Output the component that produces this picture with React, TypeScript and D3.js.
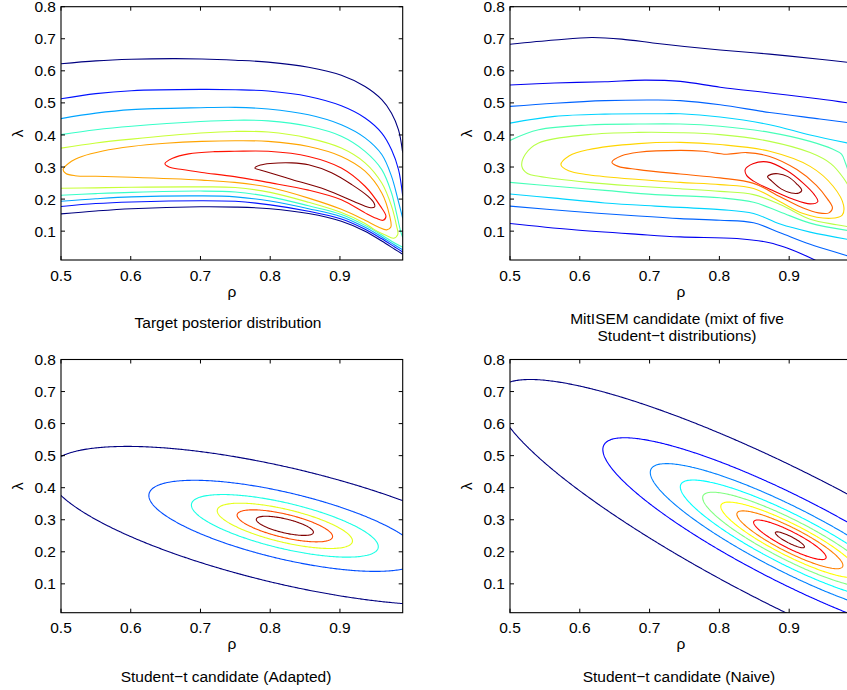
import React from "react";
import * as d3 from "d3";

type Pt = [number, number];
type Curve = { pts: Pt[]; closed?: boolean };

const rhoTicks = [0.5, 0.6, 0.7, 0.8, 0.9];
const lambdaTicks = [0.1, 0.2, 0.3, 0.4, 0.5, 0.6, 0.7, 0.8];
const rhoDomain: Pt = [0.5, 0.99];
const lambdaDomain: Pt = [0.01, 0.8];

// ---- Target posterior: contour lines (outer -> inner) ----
const targetNavy: Curve[] = [
  { pts: [[0.5, 0.622], [0.55, 0.631], [0.601, 0.636], [0.66, 0.638], [0.702, 0.637], [0.75, 0.633], [0.797, 0.627], [0.855, 0.611], [0.902, 0.586], [0.936, 0.551], [0.96, 0.51], [0.974, 0.468], [0.984, 0.416], [0.99, 0.345]] },
  { pts: [[0.5, 0.154], [0.55, 0.163], [0.601, 0.17], [0.7, 0.176], [0.75, 0.175], [0.8, 0.17], [0.855, 0.155], [0.902, 0.131], [0.936, 0.1], [0.96, 0.069], [0.979, 0.043], [0.99, 0.028]] },
];
const targetBlue: Curve[] = [
  { pts: [[0.5, 0.513], [0.55, 0.529], [0.601, 0.538], [0.7, 0.542], [0.75, 0.541], [0.797, 0.537], [0.855, 0.52], [0.902, 0.491], [0.936, 0.453], [0.96, 0.406], [0.974, 0.354], [0.984, 0.292], [0.99, 0.21]] },
  { pts: [[0.5, 0.177], [0.55, 0.186], [0.601, 0.191], [0.7, 0.195], [0.75, 0.193], [0.8, 0.182], [0.855, 0.162], [0.902, 0.138], [0.936, 0.106], [0.96, 0.076], [0.979, 0.05], [0.99, 0.035]] },
];
const targetLightBlue: Curve[] = [
  { pts: [[0.5, 0.451], [0.55, 0.468], [0.601, 0.479], [0.7, 0.485], [0.75, 0.486], [0.797, 0.481], [0.855, 0.463], [0.902, 0.432], [0.936, 0.391], [0.96, 0.339], [0.974, 0.271], [0.983, 0.2], [0.99, 0.14]] },
  { pts: [[0.5, 0.193], [0.55, 0.201], [0.601, 0.207], [0.7, 0.21], [0.75, 0.207], [0.8, 0.194], [0.855, 0.17], [0.902, 0.145], [0.936, 0.112], [0.96, 0.082], [0.979, 0.056], [0.99, 0.042]] },
];
const targetCyan: Curve[] = [
  { pts: [[0.5, 0.401], [0.55, 0.416], [0.601, 0.427], [0.7, 0.442], [0.75, 0.446], [0.797, 0.444], [0.855, 0.427], [0.902, 0.396], [0.936, 0.349], [0.96, 0.292], [0.974, 0.219], [0.981, 0.157], [0.987, 0.1], [0.99, 0.08]] },
  { pts: [[0.5, 0.212], [0.55, 0.217], [0.601, 0.221], [0.7, 0.225], [0.75, 0.222], [0.8, 0.207], [0.855, 0.179], [0.902, 0.152], [0.936, 0.118], [0.96, 0.088], [0.979, 0.062], [0.99, 0.05]] },
];
const targetYellow: Curve[] = [
  { pts: [[0.5, 0.359], [0.55, 0.375], [0.601, 0.387], [0.7, 0.406], [0.749, 0.411], [0.797, 0.409], [0.855, 0.39], [0.902, 0.359], [0.936, 0.313], [0.96, 0.25], [0.974, 0.178], [0.981, 0.118], [0.983, 0.09], [0.977, 0.078], [0.965, 0.088], [0.95, 0.104], [0.936, 0.124], [0.902, 0.158], [0.855, 0.19], [0.8, 0.221], [0.75, 0.236], [0.7, 0.238], [0.601, 0.237], [0.55, 0.235], [0.5, 0.234]] },
];
const targetOrange: Curve[] = [
  { closed: true, pts: [[0.503, 0.292], [0.515, 0.318], [0.53, 0.333], [0.56, 0.35], [0.601, 0.364], [0.65, 0.374], [0.702, 0.38], [0.75, 0.382], [0.797, 0.38], [0.855, 0.364], [0.902, 0.333], [0.936, 0.287], [0.96, 0.219], [0.971, 0.15], [0.973, 0.113], [0.967, 0.104], [0.955, 0.113], [0.936, 0.134], [0.902, 0.168], [0.855, 0.203], [0.8, 0.236], [0.749, 0.252], [0.702, 0.259], [0.601, 0.268], [0.55, 0.271], [0.52, 0.273], [0.507, 0.28]] },
];
const targetRed: Curve[] = [
  { closed: true, pts: [[0.649, 0.31], [0.66, 0.327], [0.683, 0.341], [0.72, 0.348], [0.749, 0.349], [0.797, 0.349], [0.855, 0.333], [0.902, 0.297], [0.936, 0.24], [0.958, 0.178], [0.966, 0.146], [0.962, 0.134], [0.952, 0.14], [0.936, 0.157], [0.902, 0.198], [0.855, 0.228], [0.797, 0.252], [0.749, 0.27], [0.702, 0.283], [0.674, 0.292], [0.655, 0.3]] },
];
const targetDarkRed: Curve[] = [
  { closed: true, pts: [[0.778, 0.297], [0.786, 0.306], [0.8, 0.311], [0.831, 0.313], [0.855, 0.307], [0.888, 0.282], [0.917, 0.245], [0.94, 0.209], [0.949, 0.187], [0.95, 0.176], [0.944, 0.173], [0.926, 0.187], [0.879, 0.23], [0.831, 0.261], [0.792, 0.287]] },
];
const targetLevels = [targetNavy, targetBlue, targetLightBlue, targetCyan, targetYellow, targetOrange, targetRed, targetDarkRed];

// ---- MitISEM candidate: contour lines (outer -> inner) ----
const mitNavy: Curve[] = [
  { pts: [[0.5, 0.683], [0.564, 0.696], [0.617, 0.704], [0.66, 0.699], [0.708, 0.686], [0.75, 0.676], [0.801, 0.665], [0.872, 0.652], [0.944, 0.636], [0.99, 0.625]] },
];
const mitBlue: Curve[] = [
  { pts: [[0.5, 0.556], [0.564, 0.562], [0.636, 0.566], [0.693, 0.571], [0.744, 0.567], [0.801, 0.549], [0.872, 0.531], [0.944, 0.512], [0.99, 0.498]] },
  { pts: [[0.5, 0.124], [0.588, 0.105], [0.684, 0.09], [0.744, 0.082], [0.825, 0.077], [0.872, 0.064], [0.896, 0.048], [0.93, 0.017], [0.95, -0.005]] },
];
const mitLightBlue: Curve[] = [
  { pts: [[0.5, 0.489], [0.564, 0.499], [0.636, 0.507], [0.708, 0.509], [0.744, 0.507], [0.801, 0.494], [0.872, 0.47], [0.944, 0.45], [0.99, 0.437]] },
  { pts: [[0.5, 0.178], [0.588, 0.162], [0.684, 0.147], [0.744, 0.139], [0.801, 0.134], [0.849, 0.126], [0.887, 0.095], [0.93, 0.059], [0.982, 0.024], [0.99, 0.018]] },
];
const mitCyan: Curve[] = [
  { pts: [[0.5, 0.437], [0.564, 0.458], [0.636, 0.465], [0.708, 0.466], [0.744, 0.466], [0.801, 0.456], [0.872, 0.432], [0.93, 0.4], [0.99, 0.372]] },
  { pts: [[0.5, 0.216], [0.564, 0.203], [0.636, 0.188], [0.708, 0.178], [0.801, 0.167], [0.849, 0.155], [0.887, 0.122], [0.93, 0.097], [0.99, 0.072]] },
];
const mitGreen: Curve[] = [
  { pts: [[0.5, 0.383], [0.541, 0.416], [0.612, 0.431], [0.684, 0.434], [0.744, 0.434], [0.801, 0.427], [0.872, 0.408], [0.93, 0.38], [0.962, 0.356], [0.975, 0.34], [0.981, 0.31], [0.986, 0.28], [0.99, 0.265]] },
  { pts: [[0.5, 0.252], [0.564, 0.24], [0.636, 0.227], [0.708, 0.214], [0.801, 0.204], [0.849, 0.19], [0.887, 0.16], [0.93, 0.125], [0.99, 0.1]] },
];
const mitYellowGreen: Curve[] = [
  { pts: [[0.99, 0.22], [0.978, 0.265], [0.96, 0.31], [0.93, 0.345], [0.872, 0.38], [0.801, 0.401], [0.744, 0.407], [0.684, 0.408], [0.612, 0.401], [0.541, 0.375], [0.522, 0.34], [0.517, 0.302], [0.525, 0.28], [0.541, 0.271], [0.612, 0.252], [0.684, 0.24], [0.744, 0.232], [0.801, 0.224], [0.849, 0.214], [0.887, 0.183], [0.93, 0.137], [0.968, 0.12], [0.99, 0.112]] },
];
const mitYellow: Curve[] = [
  { closed: true, pts: [[0.573, 0.307], [0.585, 0.335], [0.612, 0.354], [0.684, 0.373], [0.744, 0.377], [0.801, 0.37], [0.872, 0.349], [0.93, 0.302], [0.963, 0.24], [0.978, 0.18], [0.976, 0.15], [0.96, 0.14], [0.92, 0.155], [0.887, 0.192], [0.849, 0.233], [0.801, 0.245], [0.744, 0.252], [0.684, 0.261], [0.612, 0.276], [0.584, 0.288]] },
];
const mitOrange: Curve[] = [
  { closed: true, pts: [[0.646, 0.315], [0.66, 0.335], [0.684, 0.346], [0.744, 0.352], [0.777, 0.349], [0.81, 0.34], [0.839, 0.345], [0.872, 0.333], [0.911, 0.292], [0.939, 0.243], [0.955, 0.2], [0.962, 0.172], [0.957, 0.157], [0.942, 0.157], [0.92, 0.172], [0.887, 0.207], [0.849, 0.249], [0.801, 0.266], [0.744, 0.278], [0.684, 0.292], [0.655, 0.302]] },
];
const mitRed: Curve[] = [
  { closed: true, pts: [[0.837, 0.292], [0.848, 0.31], [0.868, 0.316], [0.896, 0.29], [0.92, 0.25], [0.936, 0.214], [0.941, 0.192], [0.93, 0.185], [0.905, 0.2], [0.875, 0.228], [0.849, 0.256], [0.839, 0.274]] },
];
const mitDarkRed: Curve[] = [
  { closed: true, pts: [[0.869, 0.27], [0.874, 0.277], [0.884, 0.279], [0.898, 0.27], [0.911, 0.247], [0.918, 0.227], [0.914, 0.219], [0.903, 0.219], [0.889, 0.231], [0.875, 0.256]] },
];
const mitLevels = [mitNavy, mitBlue, mitLightBlue, mitCyan, mitGreen, mitYellowGreen, mitYellow, mitOrange, mitRed, mitDarkRed];

// ---- Student-t candidates: location, scales, correlation, contour radii ----
const adaptedCenter: Pt = [0.821, 0.281];
const adaptedScale: Pt = [0.1, 0.0729];
const adaptedCorr = -0.665;
const adaptedRadii = [3.4, 1.95, 1.34, 0.97, 0.685, 0.41];

const naiveCenter: Pt = [0.901, 0.2375];
const naiveScale: Pt = [0.1, 0.1188];
const naiveCorr = -0.884;
const naiveRadii = [4.21, 2.68, 2.0, 1.57, 1.25, 0.99, 0.76, 0.52, 0.21];

const GRID_RHO: Pt = [0.3, 1.4];
const GRID_LAMBDA: Pt = [-0.35, 1.0];
const GRID_N = 550;

function jet(t: number) {
  const c = (v: number) => Math.round(255 * Math.max(0, Math.min(1, v)));
  const r = c(Math.min(4 * t - 1.5, -4 * t + 4.5));
  const g = c(Math.min(4 * t - 0.5, -4 * t + 3.5));
  const b = c(Math.min(4 * t + 0.5, -4 * t + 2.5));
  return `rgb(${r},${g},${b})`;
}

function ellipseLevels(center: Pt, scale: Pt, corr: number, radii: number[]): Curve[][] {
  const n = GRID_N;
  const dr = (GRID_RHO[1] - GRID_RHO[0]) / (n - 1);
  const dl = (GRID_LAMBDA[1] - GRID_LAMBDA[0]) / (n - 1);
  const values: number[] = new Array(n * n);
  for (let j = 0; j < n; j++) {
    const z2 = (GRID_LAMBDA[0] + j * dl - center[1]) / scale[1];
    for (let i = 0; i < n; i++) {
      const z1 = (GRID_RHO[0] + i * dr - center[0]) / scale[0];
      values[j * n + i] = -Math.sqrt((z1 * z1 - 2 * corr * z1 * z2 + z2 * z2) / (1 - corr * corr));
    }
  }
  const gen = d3.contours().size([n, n]);
  return radii.map((r) => {
    const mp = gen.contour(values, -r);
    const curves: Curve[] = [];
    mp.coordinates.forEach((poly) =>
      poly.forEach((ring) =>
        curves.push({
          closed: true,
          pts: ring.map(([x, y]) => [GRID_RHO[0] + (x - 0.5) * dr, GRID_LAMBDA[0] + (y - 0.5) * dl] as Pt),
        })
      )
    );
    return curves;
  });
}

interface Box { left: number; right: number; top: number; bottom: number }

const FONT = "'Liberation Sans', Arial, Helvetica, sans-serif";
const FS = 15.5;

function Panel(props: {
  id: string;
  box: Box;
  levels: Curve[][];
  smooth: boolean;
  title: string[];
  titleX: number;
  titleY: number;
}) {
  const { id, box, levels, smooth, title, titleX, titleY } = props;
  const x = d3.scaleLinear().domain(rhoDomain).range([box.left, box.right]);
  const y = d3.scaleLinear().domain(lambdaDomain).range([box.bottom, box.top]);
  const n = levels.length;
  const openLine = d3.line<Pt>().x((d) => x(d[0])).y((d) => y(d[1]))
    .curve(smooth ? d3.curveCatmullRom.alpha(0.5) : d3.curveLinear);
  const closedLine = d3.line<Pt>().x((d) => x(d[0])).y((d) => y(d[1]))
    .curve(smooth ? d3.curveCatmullRomClosed.alpha(0.5) : d3.curveLinearClosed);
  const tick = 4;
  const midX = (box.left + box.right) / 2;
  const midY = (box.top + box.bottom) / 2;
  return (
    <g fontFamily={FONT} fontSize={FS} fill="#000">
      <defs>
        <clipPath id={id}>
          <rect x={box.left} y={box.top} width={box.right - box.left} height={box.bottom - box.top} />
        </clipPath>
      </defs>
      <g clipPath={`url(#${id})`}>
        {levels.map((lev, k) =>
          lev.map((c, i) => (
            <path
              key={`${k}-${i}`}
              d={(c.closed ? closedLine : openLine)(c.pts) || ""}
              fill="none"
              stroke={jet(n > 1 ? k / (n - 1) : 0)}
              strokeWidth={1.1}
            />
          ))
        )}
      </g>
      <rect x={box.left} y={box.top} width={box.right - box.left} height={box.bottom - box.top}
        fill="none" stroke="#000" strokeWidth={1.1} />
      {rhoTicks.map((t) => (
        <g key={`x${t}`}>
          <line x1={x(t)} x2={x(t)} y1={box.bottom} y2={box.bottom - tick} stroke="#000" />
          <line x1={x(t)} x2={x(t)} y1={box.top} y2={box.top + tick} stroke="#000" />
          <text x={x(t)} y={box.bottom + 20.5} textAnchor="middle">{t.toFixed(1)}</text>
        </g>
      ))}
      {lambdaTicks.map((t) => (
        <g key={`y${t}`}>
          <line x1={box.left} x2={box.left + tick} y1={y(t)} y2={y(t)} stroke="#000" />
          <line x1={box.right} x2={box.right - tick} y1={y(t)} y2={y(t)} stroke="#000" />
          <text x={box.left - 5} y={y(t)} dy="0.36em" textAnchor="end">{t.toFixed(1)}</text>
        </g>
      ))}
      <text x={midX} y={box.bottom + 36.5} textAnchor="middle">ρ</text>
      <text transform={`translate(${box.left - 38},${midY}) rotate(-90)`} textAnchor="middle">λ</text>
      {title.map((s, i) => (
        <text key={i} x={titleX} y={titleY + i * 17.5} textAnchor="middle">{s}</text>
      ))}
    </g>
  );
}

export default function App() {
  const adaptedLevels = ellipseLevels(adaptedCenter, adaptedScale, adaptedCorr, adaptedRadii);
  const naiveLevels = ellipseLevels(naiveCenter, naiveScale, naiveCorr, naiveRadii);
  const top1 = 6.7, bot1 = 260, top2 = 359.5, bot2 = 612.7;
  const l1 = 61, r1 = 402.7, l2 = 510, r2 = 852;
  return (
    <svg width={847} height={690} style={{ position: "absolute", left: 0, top: 0, background: "#fff" }}>
      <Panel id="p1" box={{ left: l1, right: r1, top: top1, bottom: bot1 }} levels={targetLevels} smooth
        title={["Target posterior distribution"]} titleX={228} titleY={328} />
      <Panel id="p2" box={{ left: l2, right: r2, top: top1, bottom: bot1 }} levels={mitLevels} smooth
        title={["MitISEM candidate (mixt of five", "Student\u2212t distributions)"]} titleX={677} titleY={323.5} />
      <Panel id="p3" box={{ left: l1, right: r1, top: top2, bottom: bot2 }} levels={adaptedLevels} smooth={false}
        title={["Student\u2212t candidate (Adapted)"]} titleX={226} titleY={682} />
      <Panel id="p4" box={{ left: l2, right: r2, top: top2, bottom: bot2 }} levels={naiveLevels} smooth={false}
        title={["Student\u2212t candidate (Naive)"]} titleX={679} titleY={682} />
    </svg>
  );
}
